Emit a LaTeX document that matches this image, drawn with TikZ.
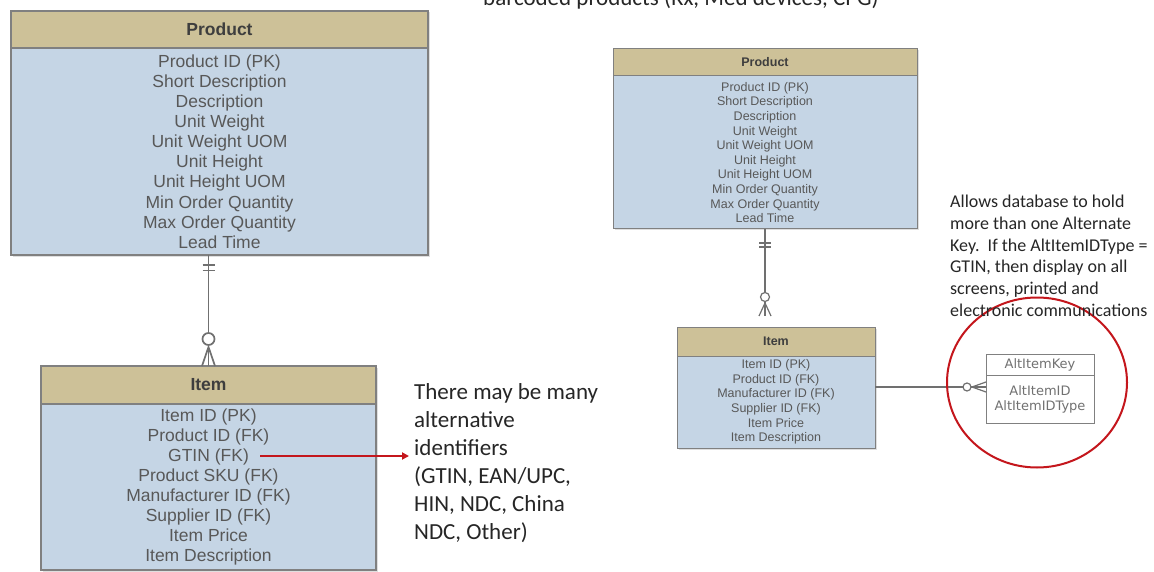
\documentclass[tikz,border=0pt]{standalone}
\usepackage{fontspec}
\setmainfont{Liberation Sans}
\newfontfamily\notefont{Carlito}
\newfontfamily\keyfont{DejaVu Sans}
\usetikzlibrary{positioning, arrows.meta, calc, shadows}
\definecolor{headtan}{RGB}{205,193,152}
\definecolor{bodyblue}{RGB}{197,213,229}
\definecolor{rim}{RGB}{128,128,128}
\definecolor{ink}{RGB}{88,88,88}
\definecolor{wire}{RGB}{112,112,112}
\definecolor{alert}{RGB}{196,22,28}

\begin{document}
\begin{tikzpicture}[x=1pt, y=-1pt,
  box/.style={draw=rim, inner sep=0pt, outer sep=0pt, align=center,
    drop shadow={shadow xshift=1.5pt, shadow yshift=-1.5pt, opacity=0.25}},
  headbig/.style={box, fill=headtan, line width=1.4pt, text=ink!70!black,
    font=\fontsize{17.5}{20.1}\selectfont\bfseries},
  bodybig/.style={box, fill=bodyblue, line width=1.4pt, text=ink,
    font=\fontsize{17.5}{20.1}\selectfont},
  headsmall/.style={headbig, line width=1pt, font=\fontsize{12.5}{14.6}\selectfont\bfseries},
  bodysmall/.style={bodybig, line width=1pt, font=\fontsize{12.5}{14.6}\selectfont},
  keybox/.style={draw=rim, fill=white, line width=1pt, inner sep=0pt, outer sep=0pt,
    align=center, text=ink!85, font=\keyfont\fontsize{13}{15}\selectfont},
  er/.style={wire, line width=1.7pt},
  ersmall/.style={wire, line width=1.2pt},
  note/.style={inner sep=0pt, align=left, text=black!85, font=\notefont\fontsize{23}{28}\selectfont}]
\clip (0,0) rectangle (1154,572);
\fill[white] (0,0) rectangle (1154,572);

% caption cut at the top
\node[note, anchor=base west] (caption) at (483,5.5) {barcoded products (Rx, Med devices, CPG)};

% left model
\node[headbig, minimum width=417pt, minimum height=37pt] (prodLh) at (219.5,29.5) {Product};
\node[bodybig, minimum width=417pt, minimum height=207pt, below=0pt of prodLh] (prodLb)
  {Product ID (PK)\\Short Description\\Description\\Unit Weight\\Unit Weight UOM\\Unit Height\\Unit Height UOM\\Min Order Quantity\\Max Order Quantity\\Lead Time};
\node[headbig, minimum width=335pt, minimum height=38pt] (itemLh) at (208.5,385) {Item};
\node[bodybig, minimum width=335pt, minimum height=166pt, below=0pt of itemLh] (itemLb)
  {Item ID (PK)\\Product ID (FK)\\GTIN (FK)\\Product SKU (FK)\\Manufacturer ID (FK)\\Supplier ID (FK)\\Item Price\\Item Description};

\draw[er] (prodLb.south -| itemLh.north) -- (itemLh.north);
\draw[er] ($(prodLb.south -| itemLh.north)+(-6,10)$) -- ++(12,0);
\draw[er] ($(prodLb.south -| itemLh.north)+(-6,15.5)$) -- ++(12,0);
\draw[er, fill=white] ($(itemLh.north)+(0,-27)$) circle[radius=6];
\draw[er] ($(itemLh.north)+(-6.5,0)$) -- ($(itemLh.north)+(0,-19)$) -- ($(itemLh.north)+(6.5,0)$);

\node[note, anchor=north west] (noteL) at (414,383)
  {There may be many\\alternative\\identifiers\\(GTIN, EAN/UPC,\\HIN, NDC, China\\NDC, Other)};
\coordinate (gtinTail) at (260,456);
\draw[alert, line width=2.2pt, -{Triangle[length=7pt, width=7pt]}, shorten >=5pt]
  (gtinTail) -- (gtinTail -| noteL.west);

% right model
\node[headsmall, minimum width=304pt, minimum height=27pt] (prodRh) at (765,62.5) {Product};
\node[bodysmall, minimum width=304pt, minimum height=153pt, below=0pt of prodRh] (prodRb)
  {Product ID (PK)\\Short Description\\Description\\Unit Weight\\Unit Weight UOM\\Unit Height\\Unit Height UOM\\Min Order Quantity\\Max Order Quantity\\Lead Time};
\node[headsmall, minimum width=198pt, minimum height=29pt] (itemRh) at (776,341.5) {Item};
\node[bodysmall, minimum width=198pt, minimum height=92pt, below=0pt of itemRh] (itemRb)
  {Item ID (PK)\\Product ID (FK)\\Manufacturer ID (FK)\\Supplier ID (FK)\\Item Price\\Item Description};

\draw[ersmall, shorten >=11pt] (prodRb.south) -- (prodRb.south |- itemRh.north);
\draw[ersmall] ($(prodRb.south)+(-6,14)$) -- ++(12,0);
\draw[ersmall] ($(prodRb.south)+(-6,18)$) -- ++(12,0);
\draw[ersmall, fill=white] ($(prodRb.south |- itemRh.north)+(0,-30)$) circle[radius=4.5];
\draw[ersmall] ($(prodRb.south |- itemRh.north)+(-6,-11)$) -- ($(prodRb.south |- itemRh.north)+(0,-24)$)
  -- ($(prodRb.south |- itemRh.north)+(6,-11)$);

\node[keybox, minimum width=108pt, minimum height=21pt] (keyh) at (1040,364.5) {AltItemKey};
\node[keybox, minimum width=108pt, minimum height=48pt, below=0pt of keyh] (keyb) {AltItemID\\AltItemIDType};

\draw[ersmall] (itemRb.east |- 0,387) -- (keyb.west |- 0,387);
\draw[ersmall, fill=white] ($(keyb.west |- 0,387)+(-19,0)$) circle[radius=4];
\draw[ersmall] ($(keyb.west |- 0,387)+(0,-5)$) -- ($(keyb.west |- 0,387)+(-14,0)$) -- ($(keyb.west |- 0,387)+(0,5)$);

\draw[alert, line width=2pt] (1037,382.5) ellipse[x radius=90, y radius=85];

\node[note, anchor=north west, font=\notefont\fontsize{18}{21.7}\selectfont] (noteR) at (950,195)
  {Allows database to hold\\more than one Alternate\\Key.\ \ If the AltItemIDType =\\GTIN, then display on all\\screens, printed and\\electronic communications};
\end{tikzpicture}
\end{document}
